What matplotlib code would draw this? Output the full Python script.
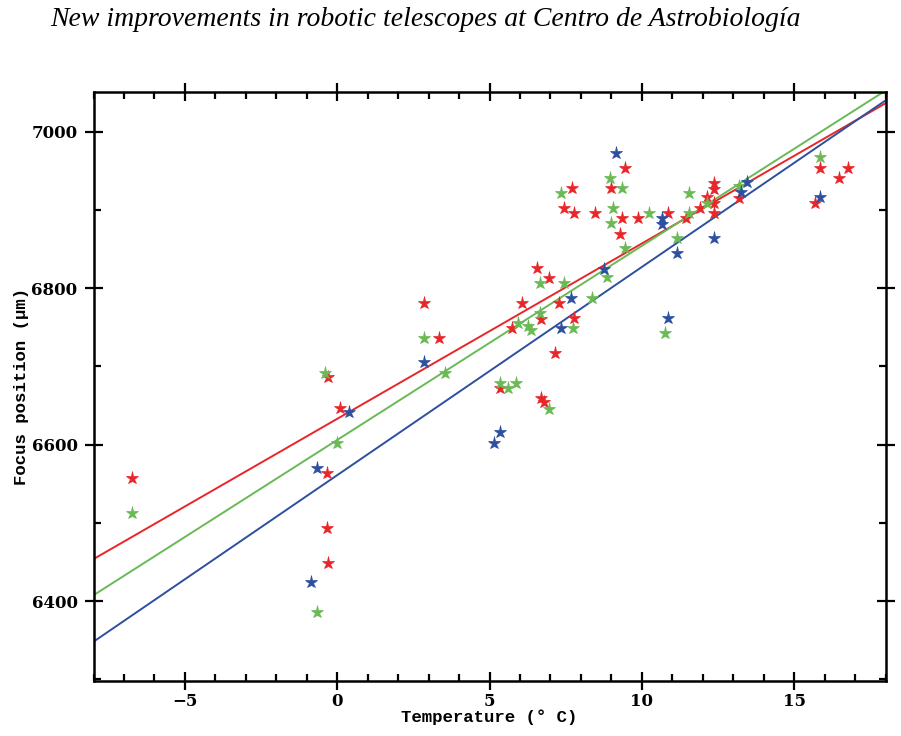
import matplotlib
matplotlib.use("Agg")
import matplotlib.pyplot as plt
import numpy as np
from matplotlib.ticker import MultipleLocator

title = "New improvements in robotic telescopes at Centro de Astrobiología"
xlabel = "Temperature (° C)"
ylabel = "Focus position (μm)"

red_x = [-6.73, -0.30, 0.09, -0.33, -0.33, -0.30, 2.84, 3.35, 5.35, 5.74, 6.07, 6.55, 6.68, 6.70, 6.80,
         6.96, 7.14, 7.29, 7.45, 7.71, 7.77, 7.78, 8.46, 8.99, 9.27, 9.36, 9.46, 9.86, 10.86, 11.45,
         11.92, 12.15, 12.36, 12.36, 12.36, 12.36, 13.19, 15.68, 15.86, 16.46, 16.76]
red_y = [6557, 6686, 6647, 6564, 6494, 6449, 6781, 6736, 6672, 6749, 6781, 6826, 6761, 6660, 6654,
         6813, 6717, 6781, 6902, 6928, 6762, 6896, 6896, 6928, 6869, 6889, 6954, 6889, 6896, 6889,
         6902, 6916, 6934, 6927, 6909, 6896, 6915, 6909, 6954, 6941, 6954]

green_x = [-6.73, -0.41, 0.00, -0.66, 2.84, 3.54, 5.35, 5.61, 5.88, 5.93, 6.26, 6.37, 6.65, 6.66,
           6.96, 7.36, 7.45, 7.75, 8.35, 8.85, 8.96, 8.99, 9.05, 9.36, 9.46, 10.25, 10.77, 11.15,
           11.54, 11.56, 12.15, 13.19, 15.85]
green_y = [6513, 6691, 6602, 6386, 6736, 6692, 6679, 6672, 6679, 6755, 6752, 6746, 6768, 6806,
           6646, 6922, 6806, 6749, 6788, 6814, 6941, 6883, 6902, 6928, 6851, 6896, 6743, 6864,
           6896, 6922, 6909, 6931, 6967]

blue_x = [-0.85, -0.66, 0.38, 2.84, 5.16, 5.35, 7.36, 7.66, 8.76, 9.15, 10.66, 10.66, 10.86, 11.15,
          12.36, 13.26, 13.44, 15.86]
blue_y = [6424, 6570, 6642, 6705, 6602, 6616, 6749, 6787, 6825, 6973, 6890, 6882, 6762, 6845,
          6864, 6923, 6935, 6916]

# fitted lines: (intercept at T=0, slope)
red_fit = [6633, 22.4]
green_fit = [6606, 24.8]
blue_fit = [6561, 26.6]

red_c = "#e8262a"
green_c = "#6ab955"
blue_c = "#2d4f9f"

fig = plt.figure(figsize=(9.01, 7.36), dpi=100)
ax = fig.add_axes([93.5/901, 1-681/736, (885.5-93.5)/901, (681-91.7)/736])

xl = np.array([-8, 18])
for fit, c in [(red_fit, red_c), (green_fit, green_c), (blue_fit, blue_c)]:
    ax.plot(xl, fit[0] + fit[1]*xl, color=c, lw=1.4, zorder=2)

for xs, ys, c in [(red_x, red_y, red_c), (green_x, green_y, green_c), (blue_x, blue_y, blue_c)]:
    ax.plot(xs, ys, linestyle="none", marker="*", markersize=9.5, color=c, markeredgewidth=0.5, zorder=3)

ax.set_xlim(-8, 18)
ax.set_ylim(6298, 7051)
ax.xaxis.set_major_locator(MultipleLocator(5))
ax.xaxis.set_minor_locator(MultipleLocator(1))
ax.yaxis.set_major_locator(MultipleLocator(200))
ax.yaxis.set_minor_locator(MultipleLocator(100))
ax.tick_params(which="both", top=True, right=True, width=1.6)
ax.tick_params(which="major", direction="inout", length=13)
ax.tick_params(axis="x", which="major", pad=2)
ax.tick_params(axis="y", which="major", pad=5)
ax.tick_params(which="minor", direction="in", length=5)
for s in ax.spines.values():
    s.set_linewidth(1.8)
for lab in ax.get_xticklabels() + ax.get_yticklabels():
    lab.set_fontfamily("DejaVu Serif")
    lab.set_fontweight("bold")
    lab.set_fontsize(12)

ax.set_xlabel(xlabel, fontfamily="Liberation Mono", fontweight="bold", fontsize=12.5, labelpad=0)
ax.set_ylabel(ylabel, fontfamily="Liberation Mono", fontweight="bold", fontsize=12.5, labelpad=2)

fig.text(50/901, 1-19/736, title, fontfamily="Liberation Serif", fontstyle="italic", fontsize=20,
         ha="left", va="center")

fig.savefig("out.png", dpi=100)
